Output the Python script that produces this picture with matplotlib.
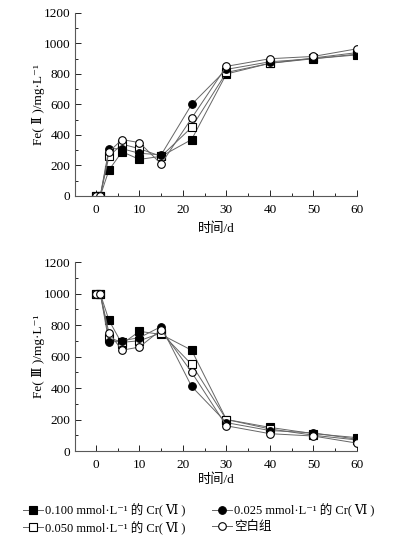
import numpy as np
import matplotlib
matplotlib.use('Agg')
import matplotlib.pyplot as plt
from matplotlib.ticker import MultipleLocator

plt.rcParams['font.family'] = ['Liberation Serif', 'DejaVu Serif', 'Noto Sans CJK SC']

days = [0, 1, 3, 6, 10, 15, 22, 30, 40, 50, 60]

# Fe(II) concentration, mg/L
fe2_100 = [0, 0, 170, 290, 240, 260, 370, 800, 870, 900, 925]
fe2_050 = [0, 0, 260, 340, 310, 260, 450, 810, 870, 905, 940]
fe2_025 = [0, 0, 310, 310, 280, 270, 600, 830, 880, 900, 930]
fe2_blank = [0, 0, 290, 370, 350, 210, 510, 850, 900, 915, 965]

# Fe(III) concentration, mg/L
fe3_100 = [1000, 1000, 830, 680, 760, 740, 640, 200, 150, 110, 85]
fe3_050 = [1000, 1000, 720, 690, 700, 750, 550, 200, 140, 100, 70]
fe3_025 = [1000, 1000, 690, 700, 720, 790, 410, 180, 130, 115, 75]
fe3_blank = [1000, 1000, 750, 640, 660, 770, 500, 160, 110, 95, 50]

labels = ['0.100 mmol·L⁻¹ 的 Cr( Ⅵ )', '0.050 mmol·L⁻¹ 的 Cr( Ⅵ )',
          '0.025 mmol·L⁻¹ 的 Cr( Ⅵ )', '空白组']
styles = [('s', 'black'), ('s', 'white'), ('o', 'black'), ('o', 'white')]

fig = plt.figure(figsize=(3.97, 5.47), dpi=100)
ax1 = fig.add_axes([0.189, 0.6417, 0.710, 0.3346])
ax2 = fig.add_axes([0.189, 0.1755, 0.710, 0.3455])


def draw(ax, series, ylabel, xlab_y):
    handles = []
    for ys, (mk, fc) in zip(series, styles):
        h, = ax.plot(days, ys, marker=mk, markersize=5.5, markerfacecolor=fc,
                     markeredgecolor='black', markeredgewidth=0.8,
                     color='0.4', linewidth=0.7)
        handles.append(h)
    ax.set_xlim(-4.8, 60)
    ax.set_ylim(0, 1200)
    ax.xaxis.set_major_locator(MultipleLocator(10))
    ax.xaxis.set_minor_locator(MultipleLocator(5))
    ax.yaxis.set_major_locator(MultipleLocator(200))
    ax.yaxis.set_minor_locator(MultipleLocator(100))
    ax.tick_params(which='both', direction='in', labelsize=9.5, width=0.6)
    ax.tick_params(which='major', length=4)
    ax.tick_params(which='minor', length=2)
    ax.tick_params(axis='x', pad=6)
    for s in ['top', 'right']:
        ax.spines[s].set_visible(False)
    for s in ['left', 'bottom']:
        ax.spines[s].set_linewidth(0.8)
        ax.spines[s].set_color('0.35')
    ax.set_ylabel(ylabel, fontsize=9.5, va='center')
    ax.yaxis.set_label_coords(-0.131, 0.5)
    ax.set_xlabel('时间/d', fontsize=9.5, va='center')
    ax.xaxis.set_label_coords(0.5, xlab_y)
    return handles


handles = draw(ax1, [fe2_100, fe2_050, fe2_025, fe2_blank], 'Fe( Ⅱ )/mg·L⁻¹', -0.18)
draw(ax2, [fe3_100, fe3_050, fe3_025, fe3_blank], 'Fe( Ⅲ )/mg·L⁻¹', -0.153)

fig.legend(handles, labels, ncol=2, loc='upper left', bbox_to_anchor=(0.045, 0.088),
           frameon=False, fontsize=9, handlelength=1.6, handletextpad=0.2,
           columnspacing=2.1, labelspacing=0.3, borderaxespad=0)

fig.savefig('out.png', dpi=100)
